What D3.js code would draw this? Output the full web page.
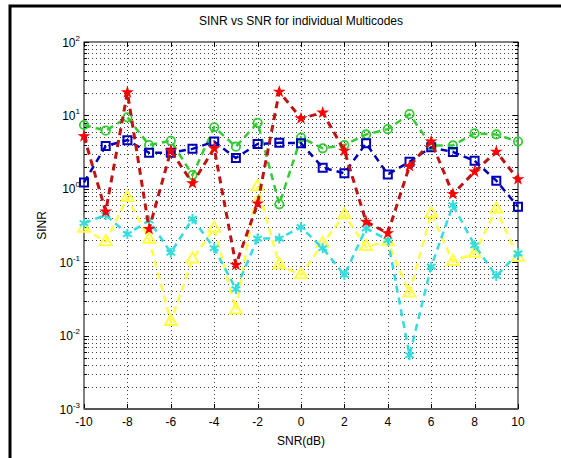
<!DOCTYPE html>
<html>
<head>
<meta charset="utf-8">
<script src="https://cdn.jsdelivr.net/npm/d3@7"></script>
<style>
  body { margin: 0; background: #fff; }
  text { font-family: Arial, "Liberation Sans", Helvetica, sans-serif; fill: #000; }
</style>
</head>
<body>
<svg id="chart" width="561" height="458"></svg>
<script>
// SNR sweep (dB)
const snr = [-10, -9, -8, -7, -6, -5, -4, -3, -2, -1, 0, 1, 2, 3, 4, 5, 6, 7, 8, 9, 10];

// SINR per multicode
const codeRed    = [5.2, 0.49, 20.6, 0.283, 3.3, 1.19, 3.56, 0.092, 0.63, 21, 9.1, 10.9, 3.3, 0.356, 0.248, 2.04, 4.4, 0.85, 1.71, 3.2, 1.35];
const codeGreen  = [7.4, 6.2, 9.4, 3.95, 4.5, 1.54, 6.9, 3.75, 7.95, 0.615, 5.0, 3.56, 3.95, 5.5, 6.5, 10.4, 3.87, 3.9, 5.7, 5.5, 4.4];
const codeBlue   = [1.22, 3.83, 4.6, 3.1, 3.1, 3.5, 4.4, 2.63, 4.07, 4.25, 4.17, 1.94, 1.63, 4.17, 1.57, 2.34, 3.67, 3.17, 2.41, 1.29, 0.57];
const codeYellow = [0.29, 0.19, 0.76, 0.205, 0.0155, 0.11, 0.29, 0.0223, 1.07, 0.092, 0.067, 0.18, 0.44, 0.163, 0.19, 0.038, 0.46, 0.102, 0.132, 0.525, 0.116];
const codeCyan   = [0.34, 0.44, 0.242, 0.37, 0.135, 0.39, 0.155, 0.043, 0.21, 0.21, 0.30, 0.155, 0.067, 0.29, 0.2, 0.0054, 0.087, 0.6, 0.17, 0.065, 0.132];

// Axis ticks
const xTicks = [-10, -8, -6, -4, -2, 0, 2, 4, 6, 8, 10];
const yExponents = [-3, -2, -1, 0, 1, 2];

const titleText = "SINR vs SNR for individual Multicodes";
const xLabelText = "SNR(dB)";
const yLabelText = "SINR";

const svg = d3.select("#chart");
const L = 84, R = 518, T = 42, B = 409;

const x = d3.scaleLinear().domain([-10, 10]).range([L, R]);
const y = d3.scaleLog().domain([1e-3, 1e2]).range([B, T]);

// outer figure frame
svg.append("path")
  .attr("d", `M10,458 V6 H561`)
  .attr("fill", "none").attr("stroke", "#000").attr("stroke-width", 3);

// grid
const grid = svg.append("g").attr("stroke", "#000").attr("stroke-width", 1)
  .attr("stroke-dasharray", "1,3").attr("opacity", 0.75);
const minorVals = [];
yExponents.slice(0, -1).forEach(e => {
  for (let m = 1; m <= 9; m++) minorVals.push(m * Math.pow(10, e));
});
minorVals.push(1e2);
grid.selectAll("line.h").data(minorVals.filter(v => v > 1e-3 && v < 1e2)).join("line")
  .attr("x1", L).attr("x2", R)
  .attr("y1", d => Math.round(y(d)) + 0.5).attr("y2", d => Math.round(y(d)) + 0.5);
grid.selectAll("line.v").data(xTicks.slice(1, -1)).join("line")
  .attr("y1", T).attr("y2", B)
  .attr("x1", d => Math.round(x(d)) + 0.5).attr("x2", d => Math.round(x(d)) + 0.5);

// ticks on all four sides, pointing inward
const tk = svg.append("g").attr("stroke", "#000").attr("stroke-width", 1);
xTicks.forEach(v => {
  const px = Math.round(x(v)) + 0.5;
  tk.append("line").attr("x1", px).attr("x2", px).attr("y1", B).attr("y2", B - 5);
  tk.append("line").attr("x1", px).attr("x2", px).attr("y1", T).attr("y2", T + 5);
});
minorVals.forEach(v => {
  const major = Math.abs(Math.log10(v) - Math.round(Math.log10(v))) < 1e-9;
  const len = major ? 5 : 3;
  const py = Math.round(y(v)) + 0.5;
  tk.append("line").attr("x1", L).attr("x2", L + len).attr("y1", py).attr("y2", py);
  tk.append("line").attr("x1", R).attr("x2", R - len).attr("y1", py).attr("y2", py);
});

// axes box
svg.append("rect").attr("x", L).attr("y", T).attr("width", R - L).attr("height", B - T)
  .attr("fill", "none").attr("stroke", "#000").attr("stroke-width", 1);
svg.append("line").attr("x1", L).attr("x2", R).attr("y1", B).attr("y2", B)
  .attr("stroke", "#555").attr("stroke-width", 2);

// x tick labels
svg.append("g").selectAll("text").data(xTicks).join("text")
  .attr("x", d => x(d)).attr("y", 425.5)
  .attr("text-anchor", "middle").attr("font-size", 12)
  .text(d => d);

// y tick labels (powers of ten)
const yl = svg.append("g");
yExponents.forEach(e => {
  const t = yl.append("text").attr("x", 80).attr("y", y(Math.pow(10, e)) + 4.5)
    .attr("text-anchor", "end").attr("font-size", 12);
  t.append("tspan").text("10");
  t.append("tspan").attr("font-size", 8).attr("dy", -6).text(e);
});

// titles
svg.append("text").attr("x", (L + R) / 2).attr("y", 25).attr("text-anchor", "middle")
  .attr("font-size", 12).text(titleText);
svg.append("text").attr("x", (L + R) / 2).attr("y", 445).attr("text-anchor", "middle")
  .attr("font-size", 12).text(xLabelText);
svg.append("text").attr("transform", `translate(46,${(T + B) / 2}) rotate(-90)`)
  .attr("text-anchor", "middle").attr("font-size", 12).text(yLabelText);

// series
const line = d3.line().x(d => x(d[0])).y(d => y(d[1]));
const series = [
  { vals: codeYellow, line: "#ffff44", mark: "#ffff44", lw: 2.5, sym: d3.symbolTriangle, size: 60, fill: false, sw: 2 },
  { vals: codeCyan,   line: "#33dddd", mark: "#33dddd", lw: 2.5, sym: d3.symbolAsterisk, size: 70, fill: false, sw: 2 },
  { vals: codeGreen,  line: "#33cc33", mark: "#33cc33", lw: 2.5, sym: d3.symbolCircle, size: 55, fill: false, sw: 1.8 },
  { vals: codeBlue,   line: "#0000bb", mark: "#0000bb", lw: 2.5, sym: d3.symbolSquare, size: 64, fill: false, sw: 2 },
  { vals: codeRed,    line: "#c01414", mark: "#ff0000", lw: 3,   sym: d3.symbolStar, size: 26, fill: true, sw: 1.2 }
];
series.forEach(s => {
  const pts = snr.map((v, i) => [v, s.vals[i]]);
  const g = svg.append("g");
  g.append("path").attr("d", line(pts)).attr("fill", "none")
    .attr("stroke", s.line).attr("stroke-width", s.lw).attr("stroke-dasharray", "7,5");
  const sym = d3.symbol().type(s.sym).size(s.size);
  g.selectAll("path.m").data(pts).join("path")
    .attr("transform", d => `translate(${x(d[0])},${y(d[1])})`)
    .attr("d", sym)
    .attr("fill", s.fill ? s.mark : "none")
    .attr("stroke", s.mark).attr("stroke-width", s.sw);
});
</script>
</body>
</html>
